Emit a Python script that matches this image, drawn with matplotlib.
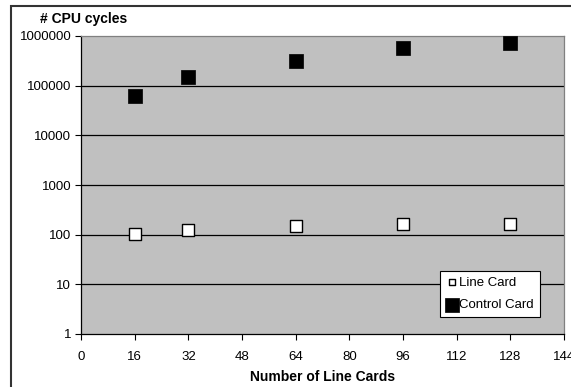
import matplotlib
matplotlib.use("Agg")
import matplotlib.pyplot as plt
from matplotlib.patches import Rectangle

plt.rcParams['font.family'] = ['Liberation Sans', 'DejaVu Sans']

line_cards = [16, 32, 64, 96, 128]
line_card_cycles = [105, 126, 147, 166, 166]
control_card_cycles = [61000, 147000, 320000, 580000, 730000]
x_ticks = [0, 16, 32, 48, 64, 80, 96, 112, 128, 144]
y_ticks = [1, 10, 100, 1000, 10000, 100000, 1000000]
y_tick_labels = ["1", "10", "100", "1000", "10000", "100000", "1000000"]

fig = plt.figure(figsize=(5.71, 3.87), dpi=100)
ax = fig.add_axes([81/571, 53/387, (564-81)/571, (334-36)/387])

# figure border (left and top visible)
fig.patches.append(Rectangle((11/571, -0.1), 1.2, 1 - 6/387 + 0.1,
                             transform=fig.transFigure, fill=False,
                             edgecolor='#333333', linewidth=1.5, zorder=0))

ax.set_facecolor('#C0C0C0')
ax.set_yscale('log')
ax.set_ylim(1, 1000000)
ax.set_xlim(0, 144)
ax.set_xticks(x_ticks)
ax.set_xticklabels([str(t) for t in x_ticks], fontsize=9.5)
ax.set_yticks(y_ticks)
ax.set_yticklabels(y_tick_labels, fontsize=9.5)
ax.yaxis.set_minor_locator(matplotlib.ticker.NullLocator())

for y in y_ticks[1:-1]:
    ax.axhline(y, color='black', linewidth=0.9, zorder=1)

ax.tick_params(axis='both', direction='out', length=4, width=0.8, colors='black', pad=3)
ax.tick_params(axis='x', pad=8)

for side in ['left', 'bottom']:
    ax.spines[side].set_color('black')
    ax.spines[side].set_linewidth(0.9)
for side in ['right', 'top']:
    ax.spines[side].set_color('#808080')
    ax.spines[side].set_linewidth(0.9)

ax.scatter(line_cards, line_card_cycles, marker='s', s=75, facecolor='white',
           edgecolor='black', linewidth=1.0, zorder=3, label='Line Card')
ax.scatter(line_cards, control_card_cycles, marker='s', s=90, facecolor='black',
           edgecolor='black', linewidth=0.5, zorder=3, label='Control Card')

leg = ax.legend(loc='lower right', bbox_to_anchor=(0.95, 0.057), fontsize=9.5,
                frameon=True, fancybox=False, framealpha=1, edgecolor='black',
                handletextpad=0.1, borderpad=0.45, labelspacing=0.75, handlelength=0.9,
                borderaxespad=0)
leg.get_frame().set_linewidth(0.8)
leg.legend_handles[0].set_sizes([25])
leg.legend_handles[1].set_sizes([95])

ax.set_xlabel('Number of Line Cards', fontsize=10, fontweight='bold', labelpad=5)
fig.text(84/571, 1 - 19/387, '# CPU cycles', fontsize=10, fontweight='bold',
         ha='center', va='center')

fig.savefig('out.png', dpi=100)
